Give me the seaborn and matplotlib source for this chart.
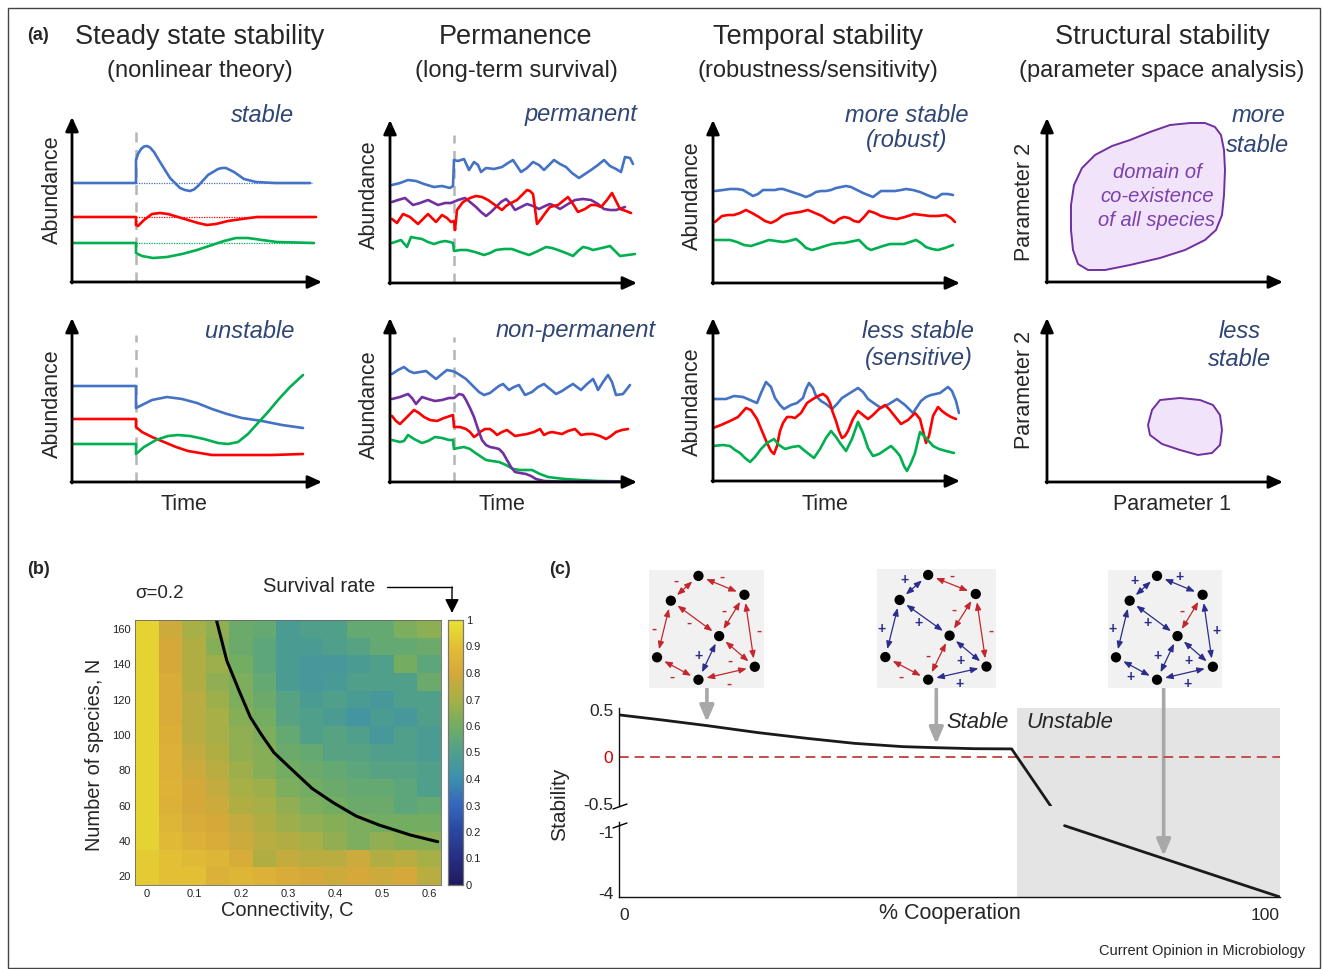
import numpy as np
import matplotlib
matplotlib.use("Agg")
import matplotlib.pyplot as plt
import seaborn as sns
from matplotlib.colors import LinearSegmentedColormap
from matplotlib.patches import Rectangle, Polygon, FancyArrowPatch
from matplotlib.lines import Line2D

# ------------------------------------------------------------------ data
# panel (a): perturbation time and curves (time, abundance)
perturb_t = 64
a1_blue_t = [0, 64, 64, 66, 69, 72, 75, 78, 82, 88, 98, 108, 113, 118, 122, 126, 136, 146, 150, 154, 162, 172, 184, 203, 238]
a1_blue_v = [99, 99, 122, 128, 133, 135.5, 136, 134.5, 130, 120, 104, 94, 92, 91, 92.5, 96, 107, 113, 114, 114, 110, 103, 100, 99, 99]
a1_red_t = [0, 64, 64, 66, 72, 80, 88, 96, 106, 116, 126, 135, 144, 156, 170, 185, 244]
a1_red_v = [65, 65, 57, 56, 62, 68, 69, 68, 65, 62, 59, 57, 58, 61, 63, 65, 65]
a1_green_t = [0, 64, 64, 70, 81, 95, 110, 125, 140, 152, 164, 176, 190, 205, 242]
a1_green_v = [39, 39, 29, 26, 24, 25, 28, 32, 37, 41, 44, 44, 42, 40, 39]

a5_blue_t = [0, 64, 64, 70, 80, 95, 110, 125, 140, 155, 170, 190, 210, 231]
a5_blue_v = [96, 96, 74, 77, 82, 85, 83, 79, 73, 68, 64, 61, 57, 54]
a5_red_t = [0, 64, 64, 70, 80, 92, 104, 116, 128, 140, 155, 175, 200, 231]
a5_red_v = [63, 63, 55, 50, 45, 40, 35, 31, 29, 27, 27, 27, 27, 28]
a5_green_t = [0, 64, 64, 72, 84, 96, 106, 118, 132, 146, 156, 166, 176, 185, 196, 206, 218, 231]
a5_green_v = [38, 38, 28, 35, 42, 46, 47, 46, 43, 39, 38, 40, 48, 58, 70, 82, 95, 107]

a2_blue_t = [2, 10, 18, 26, 34, 44, 52, 60, 63, 64, 68, 74, 79, 84, 88, 91, 96, 104, 112, 118, 123, 127, 131,
             137, 143, 149, 154, 159, 164, 170, 176, 182, 189, 195, 201, 208, 214, 220, 226, 231, 235, 240, 243]
a2_blue_v = [98, 100, 103, 102, 99, 96, 97, 95, 97, 123, 122, 124, 113, 121, 118, 111, 115, 114, 116, 120, 123, 117,
             111, 115, 121, 118, 113, 118, 123, 119, 116, 110, 105, 109, 113, 118, 123, 117, 114, 111, 126, 125, 119]
a2_purple_t = [2, 8, 15, 23, 30, 38, 48, 55, 61, 68, 75, 80, 86, 91, 96, 101, 106, 111, 116, 121, 125, 131, 137,
               143, 149, 155, 160, 165, 170, 178, 185, 193, 201, 208, 214, 220, 226, 235]
a2_purple_v = [81, 83, 85, 78, 80, 83, 78, 80, 80, 83, 85, 81, 76, 71, 67, 71, 76, 81, 84, 79, 73, 76, 79, 77, 74,
               77, 79, 77, 74, 79, 83, 84, 83, 79, 74, 73, 73, 76]
a2_red_t = [2, 7, 13, 20, 28, 33, 38, 46, 52, 57, 61, 64, 65, 67, 73, 80, 86, 92, 98, 105, 112, 116, 119, 123, 127,
            132, 137, 140, 143, 145, 147, 151, 156, 160, 168, 173, 178, 183, 188, 195, 201, 206, 211, 217, 222, 226,
            230, 236, 241]
a2_red_v = [64, 60, 69, 66, 59, 64, 69, 61, 68, 65, 61, 62, 53, 73, 81, 85, 87, 86, 83, 78, 73, 77, 79, 81, 83, 88,
            93, 92, 89, 75, 59, 64, 71, 76, 78, 82, 86, 79, 71, 74, 78, 78, 76, 83, 90, 82, 74, 72, 70]
a2_green_t = [2, 11, 17, 21, 26, 32, 38, 44, 50, 55, 60, 63, 64, 70, 77, 85, 94, 100, 106, 114, 122, 130, 139, 148,
              156, 162, 168, 176, 183, 188, 193, 198, 203, 212, 220, 225, 230, 238, 245]
a2_green_v = [40, 43, 36, 46, 45, 44, 41, 39, 41, 42, 41, 40, 32, 33, 33, 31, 28, 30, 33, 34, 34, 31, 28, 32, 36,
              35, 33, 30, 27, 32, 36, 35, 33, 35, 37, 32, 27, 28, 29]

a6_blue_t = [2, 8, 14, 19, 24, 30, 36, 41, 46, 52, 57, 62, 65, 70, 76, 80, 84, 89, 94, 100, 105, 109, 113, 116, 119,
             124, 129, 132, 135, 142, 148, 154, 160, 166, 172, 178, 183, 187, 191, 197, 203, 206, 208, 213, 218, 222,
             226, 233, 240]
a6_blue_v = [108, 112, 115, 111, 109, 110, 111, 107, 103, 108, 112, 111, 110, 107, 103, 99, 95, 90, 87, 89, 93, 96,
             98, 95, 92, 95, 97, 92, 87, 90, 95, 98, 93, 88, 91, 95, 98, 95, 92, 98, 103, 97, 92, 100, 107, 100, 87,
             88, 97]
a6_purple_t = [2, 10, 18, 22, 26, 32, 38, 45, 52, 59, 64, 69, 73, 76, 80, 84, 88, 92, 96, 100, 105, 109, 113, 117,
               121, 125, 130, 136, 141, 146, 154, 170, 200, 240]
a6_purple_v = [83, 85, 88, 84, 78, 85, 83, 81, 82, 84, 84, 88, 87, 82, 74, 65, 53, 42, 37, 35, 34, 33, 29, 22, 15,
               10, 9, 8, 6, 3, 1, 0.5, 0.5, 0.5]
a6_red_t = [2, 6, 10, 17, 24, 29, 34, 40, 47, 54, 60, 63, 64, 70, 76, 80, 84, 87, 90, 95, 100, 104, 107, 112, 117,
            121, 125, 131, 137, 144, 150, 152, 154, 158, 162, 167, 172, 178, 185, 188, 191, 197, 203, 210, 216, 221,
            226, 232, 238]
a6_red_v = [66, 61, 58, 65, 72, 69, 65, 62, 61, 64, 66, 67, 55, 55, 53, 50, 45, 47, 50, 53, 53, 50, 47, 50, 52, 49,
            46, 47, 48, 50, 53, 50, 47, 49, 50, 49, 48, 51, 53, 50, 47, 48, 48, 46, 43, 46, 50, 52, 53]
a6_green_t = [2, 10, 14, 18, 24, 32, 38, 45, 52, 59, 63, 64, 68, 74, 80, 84, 90, 96, 102, 109, 116, 123, 130, 136,
              142, 150, 158, 166, 175, 190, 208, 225, 241]
a6_green_v = [42, 40, 41, 47, 43, 39, 41, 45, 44, 42, 42, 33, 34, 35, 33, 30, 26, 22, 21, 20, 17, 13, 12, 12, 12, 8,
              5, 4, 3, 2, 1, 0.7, 0.5]

a3_blue_t = [2, 10, 17, 24, 30, 35, 40, 45, 50, 56, 62, 66, 70, 76, 82, 88, 93, 98, 103, 108, 113, 118, 123, 128,
             133, 138, 144, 150, 155, 160, 164, 168, 175, 182, 188, 193, 200, 207, 214, 219, 223, 229, 235, 240]
a3_blue_v = [92, 93, 94, 94, 93, 90, 87, 89, 93, 93, 93, 94, 94, 92, 90, 88, 86, 88, 91, 92, 92, 93, 95, 96, 97, 96,
             93, 90, 88, 86, 89, 92, 92, 92, 93, 94, 93, 91, 88, 86, 85, 89, 89, 88]
a3_red_t = [2, 9, 15, 21, 27, 33, 39, 46, 52, 58, 64, 69, 74, 80, 87, 95, 102, 109, 115, 121, 126, 131, 136, 141,
            146, 151, 156, 162, 168, 176, 184, 192, 201, 209, 217, 225, 233, 238, 242]
a3_red_v = [61, 67, 68, 68, 70, 73, 70, 66, 62, 60, 63, 67, 69, 70, 71, 73, 70, 67, 63, 60, 64, 66, 65, 62, 61, 66,
            72, 70, 67, 65, 64, 66, 69, 68, 67, 67, 68, 65, 61]
a3_green_t = [2, 10, 17, 24, 31, 38, 44, 50, 56, 63, 70, 76, 83, 88, 93, 99, 106, 112, 119, 126, 131, 136, 141, 146,
              150, 154, 158, 164, 170, 177, 184, 191, 197, 203, 208, 213, 219, 225, 232, 240]
a3_green_v = [43, 43, 43, 41, 38, 37, 39, 41, 43, 42, 41, 42, 44, 40, 35, 33, 35, 37, 39, 40, 40, 41, 42, 43, 39,
              35, 33, 35, 37, 39, 39, 39, 41, 43, 40, 36, 34, 33, 35, 38]

a7_blue_t = [0, 13, 21, 30, 37, 44, 48, 53, 58, 62, 67, 71, 78, 84, 90, 93, 96, 100, 103, 108, 113, 119, 124, 129,
             137, 145, 150, 155, 162, 168, 176, 184, 192, 200, 204, 208, 213, 218, 227, 235, 239, 243, 246]
a7_blue_v = [82, 82, 85, 84, 81, 78, 88, 99, 94, 83, 76, 72, 76, 78, 83, 92, 98, 93, 85, 80, 77, 72, 77, 83, 88, 93,
             89, 82, 77, 73, 77, 82, 76, 68, 74, 80, 84, 86, 88, 94, 90, 80, 68]
a7_red_t = [0, 8, 17, 25, 33, 38, 44, 49, 54, 58, 61, 64, 67, 70, 74, 78, 82, 88, 94, 100, 105, 110, 114, 117, 120,
            123, 126, 129, 132, 135, 140, 145, 150, 155, 160, 166, 172, 176, 180, 184, 188, 195, 202, 207, 210, 213,
            216, 220, 225, 229, 233, 238, 243]
a7_red_v = [53, 56, 60, 64, 73, 71, 62, 50, 38, 30, 27, 35, 50, 58, 64, 64, 63, 68, 78, 82, 85, 87, 84, 78, 68, 60,
            50, 43, 45, 50, 62, 70, 66, 62, 66, 72, 76, 72, 67, 62, 57, 61, 68, 62, 50, 38, 45, 65, 74, 70, 67, 64, 62]
a7_green_t = [0, 10, 17, 22, 27, 32, 37, 42, 48, 54, 61, 66, 72, 79, 86, 92, 101, 107, 113, 118, 123, 127, 133, 139,
              145, 150, 155, 160, 166, 172, 178, 183, 187, 191, 194, 198, 202, 207, 213, 220, 226, 233, 241]
a7_green_v = [35, 36, 35, 31, 28, 23, 19, 24, 32, 38, 42, 36, 32, 34, 35, 30, 23, 32, 43, 50, 44, 38, 30, 42, 59,
              48, 33, 25, 27, 31, 35, 30, 25, 15, 10, 18, 28, 49, 43, 35, 32, 30, 28]

# structural stability domains (parameter 1, parameter 2)
big_p1 = [143, 158, 168, 174, 177, 178, 177, 175, 169, 158, 138, 113, 83, 58, 41, 31, 26, 24, 24, 27, 35, 48, 65,
          83, 103, 123, 143]
big_p2 = [159, 159, 155, 147, 132, 112, 87, 67, 52, 42, 32, 24, 17, 12, 12, 18, 32, 52, 77, 97, 114, 127, 136, 142,
          150, 157, 159]
small_p1 = [113, 133, 153, 166, 173, 175, 173, 165, 151, 133, 115, 103, 101, 105, 113]
small_p2 = [82, 84, 82, 77, 67, 52, 37, 29, 27, 32, 38, 47, 57, 72, 82]

# panel (b): survival rate heat map
conn_C = [0, 0.05, 0.1, 0.15, 0.2, 0.25, 0.3, 0.35, 0.4, 0.45, 0.5, 0.55, 0.6]
species_N = [160, 150, 140, 130, 120, 110, 100, 90, 80, 70, 60, 50, 40, 30, 20]
survival = [
    [0.95, 0.78, 0.70, 0.66, 0.58, 0.56, 0.48, 0.50, 0.50, 0.56, 0.56, 0.62, 0.65],
    [0.95, 0.80, 0.72, 0.64, 0.58, 0.54, 0.48, 0.48, 0.50, 0.52, 0.56, 0.56, 0.58],
    [0.95, 0.80, 0.72, 0.68, 0.60, 0.54, 0.48, 0.46, 0.46, 0.48, 0.50, 0.60, 0.54],
    [0.95, 0.82, 0.72, 0.66, 0.62, 0.56, 0.48, 0.46, 0.47, 0.50, 0.50, 0.50, 0.58],
    [0.95, 0.82, 0.74, 0.68, 0.62, 0.58, 0.52, 0.48, 0.50, 0.48, 0.46, 0.50, 0.50],
    [0.95, 0.82, 0.74, 0.70, 0.64, 0.60, 0.52, 0.50, 0.48, 0.44, 0.48, 0.46, 0.50],
    [0.95, 0.83, 0.74, 0.70, 0.66, 0.62, 0.56, 0.50, 0.52, 0.50, 0.46, 0.50, 0.48],
    [0.95, 0.84, 0.76, 0.72, 0.66, 0.64, 0.58, 0.56, 0.52, 0.52, 0.50, 0.50, 0.48],
    [0.95, 0.84, 0.78, 0.74, 0.68, 0.64, 0.60, 0.58, 0.56, 0.54, 0.52, 0.52, 0.50],
    [0.95, 0.85, 0.80, 0.76, 0.70, 0.68, 0.62, 0.60, 0.58, 0.56, 0.56, 0.54, 0.50],
    [0.95, 0.84, 0.80, 0.78, 0.72, 0.70, 0.66, 0.62, 0.60, 0.58, 0.58, 0.54, 0.56],
    [0.95, 0.86, 0.82, 0.80, 0.76, 0.72, 0.68, 0.66, 0.64, 0.62, 0.60, 0.60, 0.60],
    [0.95, 0.88, 0.84, 0.82, 0.78, 0.74, 0.72, 0.70, 0.66, 0.62, 0.66, 0.64, 0.64],
    [0.93, 0.90, 0.88, 0.86, 0.82, 0.72, 0.76, 0.74, 0.74, 0.78, 0.72, 0.74, 0.70],
    [0.93, 0.90, 0.90, 0.84, 0.86, 0.84, 0.82, 0.80, 0.78, 0.80, 0.78, 0.80, 0.74],
]
curve_C = [0.148, 0.17, 0.197, 0.22, 0.244, 0.27, 0.298, 0.351, 0.396, 0.445, 0.494, 0.56, 0.618]
curve_N = [165, 142, 124.4, 110, 99.9, 90, 82.9, 69.7, 61.6, 54, 48.9, 43.3, 39.5]
x_tick_C = [0, 0.1, 0.2, 0.3, 0.4, 0.5, 0.6]
x_tick_labels = ["0", "0.1", "0.2", "0.3", "0.4", "0.5", "0.6"]
y_tick_N = [160, 140, 120, 100, 80, 60, 40, 20]
cbar_ticks = [0, 0.1, 0.2, 0.3, 0.4, 0.5, 0.6, 0.7, 0.8, 0.9, 1.0]
cbar_labels = ["0", "0.1", "0.2", "0.3", "0.4", "0.5", "0.6", "0.7", "0.8", "0.9", "1"]

# panel (c): stability vs cooperation
coop_upper = [0, 6.4, 13.3, 21, 28.3, 35.6, 42.9, 47.9, 53.9, 59.4, 65.5]
stab_upper = [0.447, 0.394, 0.333, 0.259, 0.199, 0.145, 0.110, 0.099, 0.088, 0.086, -0.54]
coop_lower = [67.4, 80, 93, 100]
stab_lower = [-0.69, -2.05, -3.45, -4.2]
unstable_from = 60.2
arrow_coop = [13.3, 48.0, 82.4]
upper_ticks = [0.5, 0, -0.5]
upper_labels = ["0.5", "0", "-0.5"]
lower_ticks = [-1, -4]
lower_labels = ["-1", "-4"]

# interaction networks
nodes = {"A": (0.43, 0.95), "B": (0.19, 0.74), "C": (0.83, 0.79), "D": (0.61, 0.44),
         "E": (0.07, 0.26), "F": (0.92, 0.18), "G": (0.43, 0.07)}
edges = [("A", "B"), ("A", "C"), ("B", "E"), ("B", "D"), ("C", "D"), ("C", "F"), ("D", "F"), ("D", "G"),
         ("E", "G"), ("G", "F")]
signs_1 = ["-", "-", "-", "-", "-", "-", "-", "+", "-", "-"]
signs_2 = ["+", "-", "+", "+", "-", "-", "+", "-", "-", "+"]
signs_3 = ["+", "+", "+", "+", "-", "+", "+", "+", "+", "+"]
sign_offsets = [(-0.08, 0.06), (0.0, 0.07), (-0.09, 0.0), (-0.05, -0.04), (-0.07, 0.04), (0.08, 0.0),
                (-0.06, -0.08), (-0.09, 0.02), (-0.05, -0.07), (0.02, -0.09)]

# ------------------------------------------------------------------ style
sns.set_theme(style="white")
plt.rcParams["font.family"] = ["Liberation Sans", "DejaVu Sans"]
plt.rcParams["axes.unicode_minus"] = False

BLUE, RED, GREEN, PURPLE = "#4472c4", "#ff0000", "#00b050", "#7030a0"
NAVY = "#2f4574"
LW = 1.9

W, H = 1323, 969
fig = plt.figure(figsize=(W / 100, H / 100), dpi=100)
fig.patch.set_facecolor("white")


def fx(x):
    return x / W


def fy(y):
    return 1 - y / H


def add_ax(x0, yb, w, h):
    return fig.add_axes([x0 / W, 1 - yb / H, w / W, h / H])


def ftext(x, y, s, **kw):
    kw.setdefault("ha", "center")
    kw.setdefault("va", "center")
    fig.text(fx(x), fy(y), s, **kw)


def curve(ax, t, v, color, lw=LW):
    sns.lineplot(x=t, y=v, ax=ax, color=color, linewidth=lw, estimator=None, sort=False)


def arrow_frame(ax, w, h):
    ax.set_xlim(0, w)
    ax.set_ylim(0, h)
    for sp in ax.spines.values():
        sp.set_visible(False)
    ax.set_xticks([])
    ax.set_yticks([])
    ax.set_xlabel("")
    ax.set_ylabel("")
    ax.patch.set_alpha(0)
    kw = dict(arrowstyle="-|>,head_length=0.7,head_width=0.32", lw=2, color="black",
              shrinkA=0, shrinkB=0, mutation_scale=12)
    ax.annotate("", xy=(1, 0), xytext=(-0.004, 0), xycoords="axes fraction", arrowprops=kw,
                annotation_clip=False)
    ax.annotate("", xy=(0, 1), xytext=(0, -0.006), xycoords="axes fraction", arrowprops=kw,
                annotation_clip=False)


def perturb(ax, t, top):
    ax.plot([t, t], [0, top], color="#b5b5b5", lw=1.8, ls=(0, (4, 3)), zorder=1)


# outer frame
fig.add_artist(Rectangle((fx(8), fy(968)), 1312 / W, 960 / H, transform=fig.transFigure,
                         fill=False, lw=1.0, ec="#444444"))

# ------------------------------------------------------------------ panel (a)
ftext(38, 36, "(a)", fontsize=13, fontweight="bold")
titles = [(200, "Steady state stability", "(nonlinear theory)"),
          (516, "Permanence", "(long-term survival)"),
          (818, "Temporal stability", "(robustness/sensitivity)"),
          (1162, "Structural stability", "(parameter space analysis)")]
for x, t1, t2 in titles:
    ftext(x, 37, t1, fontsize=19.5)
    ftext(x, 71, t2, fontsize=17)

# a1
ax = add_ax(72, 282, 250, 165)
perturb(ax, perturb_t, 150)
for tt, c in [(99, BLUE), (65, RED), (39, GREEN)]:
    ax.plot([perturb_t, 240], [tt, tt], color=c, lw=0.9, ls=(0, (1, 1)))
curve(ax, a1_blue_t, a1_blue_v, BLUE)
curve(ax, a1_red_t, a1_red_v, RED)
curve(ax, a1_green_t, a1_green_v, GREEN)
arrow_frame(ax, 250, 165)

# a5
ax = add_ax(72, 482, 250, 164)
perturb(ax, perturb_t, 147)
curve(ax, a5_blue_t, a5_blue_v, BLUE)
curve(ax, a5_red_t, a5_red_v, RED)
curve(ax, a5_green_t, a5_green_v, GREEN)
arrow_frame(ax, 250, 164)

# a2
ax = add_ax(390, 283, 247, 163)
perturb(ax, perturb_t, 148)
curve(ax, a2_blue_t, a2_blue_v, BLUE)
curve(ax, a2_purple_t, a2_purple_v, PURPLE)
curve(ax, a2_red_t, a2_red_v, RED)
curve(ax, a2_green_t, a2_green_v, GREEN)
arrow_frame(ax, 247, 163)

# a6
ax = add_ax(390, 482, 247, 164)
perturb(ax, perturb_t, 145)
curve(ax, a6_blue_t, a6_blue_v, BLUE)
curve(ax, a6_red_t, a6_red_v, RED)
curve(ax, a6_green_t, a6_green_v, GREEN)
curve(ax, a6_purple_t, a6_purple_v, PURPLE)
arrow_frame(ax, 247, 164)

# a3
ax = add_ax(713, 283, 247, 163)
curve(ax, a3_blue_t, a3_blue_v, BLUE)
curve(ax, a3_red_t, a3_red_v, RED)
curve(ax, a3_green_t, a3_green_v, GREEN)
arrow_frame(ax, 247, 163)

# a7
ax = add_ax(713, 481, 247, 163)
curve(ax, a7_blue_t, a7_blue_v, BLUE)
curve(ax, a7_red_t, a7_red_v, RED)
curve(ax, a7_green_t, a7_green_v, GREEN)
arrow_frame(ax, 247, 163)

# a4
ax = add_ax(1047, 282, 236, 164)
ax.add_patch(Polygon(list(zip(big_p1, big_p2)), closed=True, fc="#f1e3f9", ec=PURPLE, lw=1.4,
                     joinstyle="round"))
arrow_frame(ax, 236, 164)

# a8
ax = add_ax(1047, 482, 236, 164)
ax.add_patch(Polygon(list(zip(small_p1, small_p2)), closed=True, fc="#f1e3f9", ec=PURPLE, lw=1.4,
                     joinstyle="round"))
arrow_frame(ax, 236, 164)

# labels of panel (a)
for x, y in [(52, 190), (52, 404), (369, 195), (369, 405), (692, 196), (692, 402)]:
    ftext(x, y, "Abundance", fontsize=15.5, rotation=90)
for x, y in [(1025, 202), (1025, 390)]:
    ftext(x, y, "Parameter 2", fontsize=15.5, rotation=90)
for x in [184, 502, 825]:
    ftext(x, 504, "Time", fontsize=15.5)
ftext(1172, 504, "Parameter 1", fontsize=15.5)

it = dict(fontsize=17, style="italic", color=NAVY)
ftext(294, 115, "stable", ha="right", **it)
ftext(637, 115, "permanent", ha="right", **it)
ftext(907, 115, "more stable", **it)
ftext(907, 141, "(robust)", **it)
ftext(1258, 115, "more", **it)
ftext(1258, 146, "stable", **it)
ftext(294, 331, "unstable", ha="right", **it)
ftext(656, 331, "non-permanent", ha="right", **it)
ftext(918, 331, "less stable", **it)
ftext(919, 359, "(sensitive)", **it)
ftext(1240, 331, "less", **it)
ftext(1240, 359, "stable", **it)
pt = dict(fontsize=14.5, style="italic", color="#7d3fae")
ftext(1157, 172, "domain of", **pt)
ftext(1157, 196, "co-existence", **pt)
ftext(1157, 221, "of all species", **pt)

# ------------------------------------------------------------------ panel (b)
ftext(38, 570, "(b)", fontsize=13, fontweight="bold")
parula = LinearSegmentedColormap.from_list(
    "parula_like",
    [(0.0, "#1f1a5e"), (0.1, "#262f82"), (0.2, "#2a479f"), (0.3, "#3566bd"), (0.4, "#3c8fae"),
     (0.5, "#4e9f8c"), (0.6, "#72ad62"), (0.7, "#a6b046"), (0.8, "#d5a83a"), (0.9, "#e2be35"),
     (1.0, "#e8e431")])

axb = add_ax(135, 885, 306, 265)
cax = add_ax(448, 885, 15, 265)
sns.heatmap(survival, ax=axb, cmap=parula, vmin=0, vmax=1, cbar_ax=cax,
            cbar_kws={"ticks": cbar_ticks}, xticklabels=False, yticklabels=False)
col_step = conn_C[1] - conn_C[0]
row_step = species_N[0] - species_N[1]
axb.set_xticks([c / col_step + 0.5 for c in x_tick_C])
axb.set_xticklabels(x_tick_labels, rotation=0, fontsize=8)
axb.set_yticks([(species_N[0] - n) / row_step + 0.5 for n in y_tick_N])
axb.set_yticklabels([str(n) for n in y_tick_N], rotation=0, fontsize=8)
axb.tick_params(direction="in", length=3, width=0.6, top=True, right=True, bottom=True, left=True,
                labeltop=False, labelright=False, pad=3, colors="#333333", labelcolor="#222222")
for sp in axb.spines.values():
    sp.set_visible(True)
    sp.set_linewidth(0.6)
    sp.set_edgecolor("#666666")
axb.plot([c / col_step + 0.5 for c in curve_C],
         [(species_N[0] - n) / row_step + 0.5 for n in curve_N], color="black", lw=2.2, clip_on=True)
cax.set_yticklabels(cbar_labels)
cax.tick_params(direction="in", length=3, width=0.6, labelsize=8, pad=2, colors="#333333",
                labelcolor="#222222")
for sp in cax.spines.values():
    sp.set_visible(True)
    sp.set_linewidth(0.8)
    sp.set_edgecolor("#777777")

ftext(95, 755, "Number of species, N", fontsize=14.4, rotation=90)
ftext(287, 911, "Connectivity, C", fontsize=14.4)
ftext(160, 594, "σ=0.2", fontsize=13.5)
ftext(319, 587, "Survival rate", fontsize=14.5)
fig.add_artist(Line2D([fx(387), fx(452)], [fy(587), fy(587)], transform=fig.transFigure, color="black", lw=1))
fig.add_artist(FancyArrowPatch((fx(452), fy(587)), (fx(452), fy(613)), transform=fig.transFigure,
                               arrowstyle="-|>,head_length=0.6,head_width=0.3", mutation_scale=14,
                               lw=1, color="black", shrinkA=0, shrinkB=0))

# ------------------------------------------------------------------ panel (c)
ftext(560, 570, "(c)", fontsize=13, fontweight="bold")
axbg = add_ax(619, 897, 661, 189)
axbg.set_xlim(0, 100)
axbg.set_ylim(0, 1)
axbg.axvspan(unstable_from, 100, color="#e4e4e4", lw=0)
axbg.axis("off")

axt = add_ax(619, 806, 661, 98)
axt.set_xlim(0, 100)
axt.set_ylim(-0.52, 0.52)
axt.patch.set_alpha(0)
axt.axhline(0, color="#c0504d", lw=1.4, ls=(0, (5, 3)))
curve(axt, coop_upper, stab_upper, "#1a1a1a", lw=2)
axt.set_xticks([])
axt.set_yticks(upper_ticks)
axt.set_yticklabels(upper_labels, fontsize=12.5)
axt.get_yticklabels()[1].set_color("#d40000")
axt.tick_params(axis="y", length=0, pad=4)
for k, sp in axt.spines.items():
    sp.set_visible(k == "left")
axt.spines["left"].set_color("#111111")
axt.spines["left"].set_linewidth(1)
axt.set_xlabel("")
axt.set_ylabel("")

axl = add_ax(619, 897, 661, 75)
axl.set_xlim(0, 100)
axl.set_ylim(-4.2, -0.51)
axl.patch.set_alpha(0)
curve(axl, coop_lower, stab_lower, "#1a1a1a", lw=2)
axl.set_yticks(lower_ticks)
axl.set_yticklabels(lower_labels, fontsize=12.5)
axl.set_xticks([0, 100])
axl.set_xticklabels(["0", "100"], fontsize=12.5)
xl = axl.get_xticklabels()
xl[0].set_ha("left")
xl[1].set_ha("right")
axl.tick_params(axis="both", length=0, pad=4)
axl.tick_params(axis="x", pad=8)
for k, sp in axl.spines.items():
    sp.set_visible(k in ("left", "bottom"))
    sp.set_color("#111111")
    sp.set_linewidth(1)
axl.set_xlabel("")
axl.set_ylabel("")

for yb in (807, 826):
    fig.add_artist(Line2D([fx(613), fx(627)], [fy(yb + 2), fy(yb - 3)], transform=fig.transFigure,
                          color="black", lw=1))

ftext(946, 722, "Stable", ha="left", fontsize=15.8, style="italic")
ftext(1026, 722, "Unstable", ha="left", fontsize=15.8, style="italic")
ftext(950, 914, "% Cooperation", fontsize=15.5)
ftext(560, 804, "Stability", fontsize=15, rotation=90)

# network insets
inset_boxes = [(649, 688, 115, 118), (877, 688, 119, 119), (1108, 688, 114, 118)]
for (x0, yb, w, h), signs in zip(inset_boxes, [signs_1, signs_2, signs_3]):
    axn = add_ax(x0, yb, w, h)
    axn.set_facecolor("#f1f1f1")
    axn.set_xlim(0, 1)
    axn.set_ylim(0, 1)
    for sp in axn.spines.values():
        sp.set_visible(False)
    axn.set_xticks([])
    axn.set_yticks([])
    for (a, b), s, (du, dw) in zip(edges, signs, sign_offsets):
        col = "#c4262e" if s == "-" else "#2c2c8c"
        pa, pb = nodes[a], nodes[b]
        axn.annotate("", xy=pb, xytext=pa,
                     arrowprops=dict(arrowstyle="<|-|>,head_length=0.45,head_width=0.18", color=col,
                                     lw=0.9, shrinkA=6, shrinkB=6, mutation_scale=10))
        mx, my = (pa[0] + pb[0]) / 2 + du, (pa[1] + pb[1]) / 2 + dw
        axn.text(mx, my, s, color=col, fontsize=10 if s == "+" else 11, fontweight="bold",
                 ha="center", va="center")
    sns.scatterplot(x=[p[0] for p in nodes.values()], y=[p[1] for p in nodes.values()], ax=axn,
                    color="black", s=55, edgecolor="none", zorder=5)
    axn.set_xlabel("")
    axn.set_ylabel("")

tips = [722, 744, 856]
for xa, ytip in zip(arrow_coop, tips):
    axbg.annotate("", xy=(xa, fy(ytip)), xytext=(xa, fy(689)), xycoords=("data", "figure fraction"),
                  textcoords=("data", "figure fraction"), annotation_clip=False,
                  arrowprops=dict(arrowstyle="-|>,head_length=0.7,head_width=0.3", color="#a8a8a8",
                                  lw=2.6, shrinkA=0, shrinkB=0, mutation_scale=14))

ftext(1305, 951, "Current Opinion in Microbiology", ha="right", fontsize=10.5)

fig.savefig("out.png", dpi=100)
